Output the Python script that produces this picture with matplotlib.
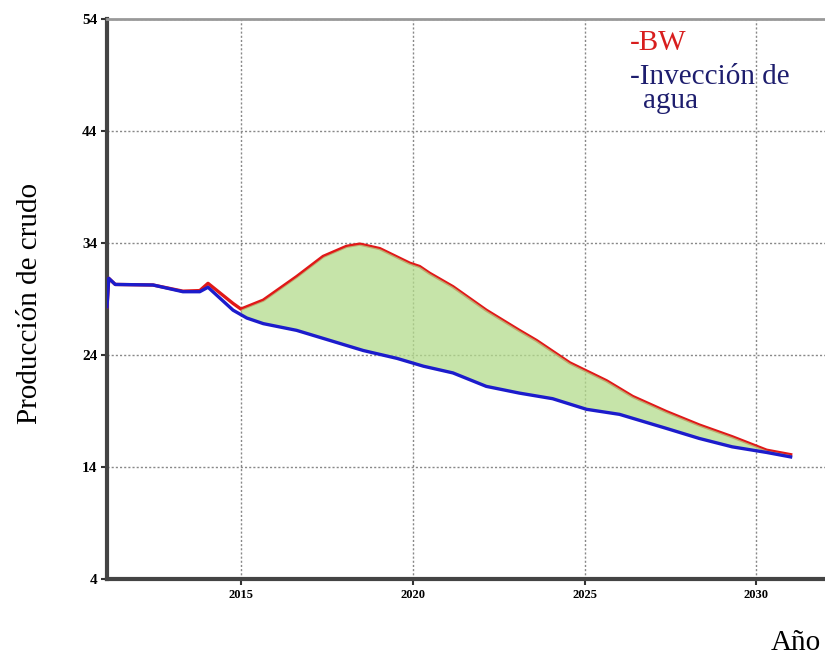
import matplotlib.pyplot as plt
import numpy as np

# production forecast, crude oil
years_bw = [2011.10, 2011.15, 2011.34, 2012.44, 2013.31, 2013.80, 2014.04, 2014.77,
            2015.00, 2015.65, 2016.62, 2017.39, 2018.07, 2018.46, 2019.04, 2019.91,
            2020.20, 2020.49, 2021.17, 2022.14, 2023.10, 2023.60, 2024.57, 2025.64,
            2026.40, 2027.38, 2028.34, 2029.30, 2030.30, 2031.00]
bw = [28.3, 30.85, 30.3, 30.25, 29.7, 29.75, 30.4, 28.6,
      28.1, 28.9, 31.0, 32.8, 33.7, 33.9, 33.5, 32.2,
      31.9, 31.3, 30.1, 28.0, 26.2, 25.3, 23.3, 21.7,
      20.3, 18.95, 17.75, 16.7, 15.5, 15.1]

years_iny = [2011.10, 2011.15, 2011.34, 2012.44, 2013.31, 2013.80, 2014.04, 2014.77,
             2015.17, 2015.65, 2016.62, 2017.59, 2018.56, 2019.54, 2020.31, 2021.17,
             2022.14, 2023.10, 2024.07, 2025.06, 2026.02, 2026.40, 2027.38, 2028.34,
             2029.30, 2030.30, 2031.00]
iny = [28.3, 30.85, 30.3, 30.25, 29.65, 29.65, 30.05, 28.0,
       27.3, 26.8, 26.2, 25.3, 24.4, 23.7, 23.0, 22.4,
       21.2, 20.6, 20.1, 19.15, 18.7, 18.35, 17.45, 16.55,
       15.8, 15.3, 14.9]

xticks = [2015, 2020, 2025, 2030]
yticks = [4, 14, 24, 34, 44, 54]

fig = plt.figure(figsize=(8.25, 6.58), dpi=100)
ax = fig.add_axes([107 / 825, 79 / 658, 718 / 825, 560 / 658])

grid = np.linspace(2015.0, 2031.0, 300)
top = np.interp(grid, years_bw, bw)
bottom = np.interp(grid, years_iny, iny)

ax.plot(years_bw, bw, color='#e01818', lw=2.4, zorder=3)
ax.fill_between(grid, bottom, top, color='#b4dc8c', alpha=0.75, lw=0, zorder=4)
ax.plot(years_iny, iny, color='#1c1ccc', lw=2.4, zorder=5)

ax.set_xlim(2011.1, 2032.0)
ax.set_ylim(4, 54)
ax.set_xticks(xticks)
ax.set_yticks(yticks)
ax.set_xticklabels([str(t) for t in xticks], family='Liberation Serif',
                   fontsize=9, fontweight='bold')
ax.set_yticklabels([str(t) for t in yticks], family='Liberation Serif',
                   fontsize=11, fontweight='bold')
ax.tick_params(length=4, width=1.5, color='#333333', pad=3)
ax.grid(True, color='#888888', ls=(0, (1.5, 1.5)), lw=1.0)
ax.set_axisbelow(True)

for s in ['left', 'bottom']:
    ax.spines[s].set_linewidth(3)
    ax.spines[s].set_color('#444444')
ax.spines['top'].set_color('#999999')
ax.spines['top'].set_linewidth(2)
ax.spines['right'].set_visible(False)

fig.text(30 / 825, 1 - 303 / 658, 'Producción de crudo', rotation=90,
         ha='center', va='center', family='Liberation Serif', fontsize=21)
fig.text(796 / 825, 1 - 643 / 658, 'Año', ha='center', va='center',
         family='Liberation Serif', fontsize=21)

fig.text(630 / 825, 1 - 43 / 658, '-BW', color='#d81e1e', ha='left', va='center',
         family='Liberation Serif', fontsize=21)
fig.text(630 / 825, 1 - 77 / 658, '-Invección de', color='#1e1e6e', ha='left',
         va='center', family='Liberation Serif', fontsize=21)
fig.text(643 / 825, 1 - 101 / 658, 'agua', color='#1e1e6e', ha='left',
         va='center', family='Liberation Serif', fontsize=21)

fig.savefig('out.png', dpi=100)
